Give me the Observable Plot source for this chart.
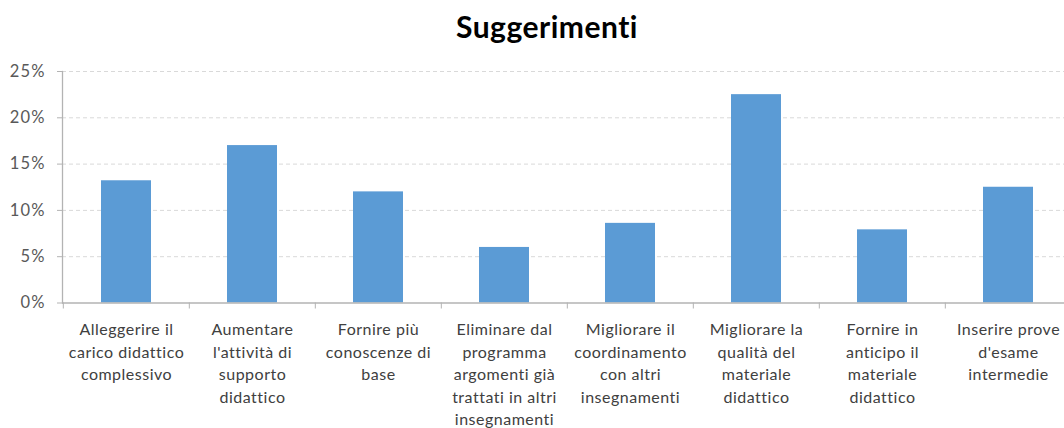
<!DOCTYPE html>
<html>
<head>
<meta charset="utf-8">
<script src="https://cdn.jsdelivr.net/npm/d3@7"></script>
<script src="https://cdn.jsdelivr.net/npm/@observablehq/plot@0.6"></script>
<style>
  html, body { margin: 0; padding: 0; background: #fff; overflow: hidden; }
  #title {
    width: 1034px; padding-left: 30px; height: 56px; line-height: 52px;
    text-align: center; font-family: Lato, sans-serif; font-weight: bold;
    font-size: 30px; letter-spacing: 0.5px; color: #000;
  }
  #chart svg text { letter-spacing: 0.5px; }
  #chart svg g.yax text { letter-spacing: 1.1px; }
</style>
</head>
<body>
<div id="title">Suggerimenti</div>
<div id="chart"></div>
<script>
const categories = [
  "Alleggerire il\ncarico didattico\ncomplessivo",
  "Aumentare\nl'attività di\nsupporto\ndidattico",
  "Fornire più\nconoscenze di\nbase",
  "Eliminare dal\nprogramma\nargomenti già\ntrattati in altri\ninsegnamenti",
  "Migliorare il\ncoordinamento\ncon altri\ninsegnamenti",
  "Migliorare la\nqualità del\nmateriale\ndidattico",
  "Fornire in\nanticipo il\nmateriale\ndidattico",
  "Inserire prove\nd'esame\nintermedie"
];
const values = [0.132, 0.170, 0.120, 0.060, 0.086, 0.225, 0.079, 0.125];
const yTicks = [0, 0.05, 0.10, 0.15, 0.20, 0.25];

const data = categories.map((c, i) => ({category: c, value: values[i]}));

const width = 1064;
const xRange = [62, 1073];
const step = (xRange[1] - xRange[0]) / categories.length;

const chart = Plot.plot({
  width,
  height: 372,
  marginTop: 15,
  marginBottom: 125.5,
  marginLeft: 62,
  marginRight: 0,
  style: {fontFamily: "Lato, sans-serif", background: "#fff"},
  x: {domain: categories, range: xRange, paddingInner: 0.6, paddingOuter: 0.3, axis: null},
  y: {domain: [0, 0.25], ticks: yTicks, axis: null},
  marks: [
    Plot.ruleY(yTicks.filter(d => d > 0), {stroke: "#d9d9d9", strokeDasharray: "4,3", strokeWidth: 1}),
    Plot.barY(data, {x: "category", y: "value", fill: "#5b9bd5"}),
    Plot.ruleY([0], {stroke: "#b3b3b3", strokeWidth: 1.3}),
    Plot.frame({anchor: "left", stroke: "#b3b3b3", strokeWidth: 1.3}),
    Plot.axisY({ticks: yTicks, tickFormat: d3.format(".0%"), tickSize: 5, tickPadding: 12,
      stroke: "#b3b3b3", fill: "#595959", fontSize: 16.5, label: null, className: "yax"}),
    Plot.axisX({tickSize: 6, tickFormat: () => "", dx: -step / 2, stroke: "#b3b3b3", label: null}),
    Plot.axisX({tickSize: 0, tickPadding: 16, lineHeight: 1.41, fontSize: 16, fill: "#404040", label: null})
  ]
});
document.getElementById("chart").appendChild(chart);
</script>
</body>
</html>
